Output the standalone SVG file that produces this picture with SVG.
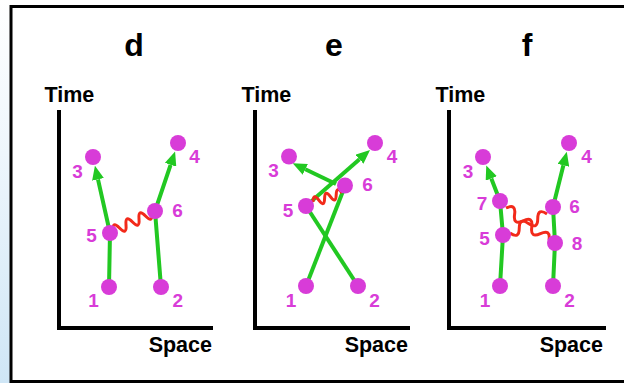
<svg xmlns="http://www.w3.org/2000/svg" width="624" height="383" viewBox="0 0 624 383">
<defs>
<linearGradient id="edge" x1="0" y1="0" x2="0" y2="1">
<stop offset="0" stop-color="#ffffff"/>
<stop offset="0.4" stop-color="#eef6fc"/>
<stop offset="1" stop-color="#cfe6f6"/>
</linearGradient>
<marker id="ah" markerUnits="userSpaceOnUse" markerWidth="14" markerHeight="12" refX="0" refY="6" orient="auto">
<path d="M0,0 L14,6 L0,12 Z" fill="#22c822"/>
</marker>
<style>
.title{font-family:"Liberation Sans",Arial,sans-serif;font-weight:bold;font-size:32px;fill:#000;text-anchor:middle}
.ax{font-family:"Liberation Sans",Arial,sans-serif;font-weight:bold;font-size:21.5px;fill:#000}
.axis{fill:none;stroke:#000;stroke-width:4}
.g{fill:none;stroke:#22c822;stroke-width:4}
.ga{fill:none;stroke:#22c822;stroke-width:4;marker-end:url(#ah)}
.w{fill:none;stroke:#f22a1a;stroke-width:3}
.n circle{fill:#d83cd8}
.n text{font-family:"Liberation Sans",Arial,sans-serif;font-weight:bold;font-size:19px;fill:#d83cd8;text-anchor:middle}
</style>
</defs>
<rect x="0" y="0" width="624" height="383" fill="#fff"/>
<rect x="0" y="0" width="10" height="383" fill="url(#edge)"/>
<rect x="11" y="6.5" width="630" height="375" fill="none" stroke="#000" stroke-width="3"/>

<g id="titles">
<text class="title" x="134" y="56">d</text>
<text class="title" x="334" y="56">e</text>
<text class="title" x="527" y="56">f</text>
</g>

<g id="axes">
<path class="axis" d="M59,110 V328 H213"/>
<path class="axis" d="M255,110 V328 H410"/>
<path class="axis" d="M449,110 V328 H606"/>
<text class="ax" x="44.5" y="102">Time</text>
<text class="ax" x="241.5" y="102">Time</text>
<text class="ax" x="435.5" y="102">Time</text>
<text class="ax" x="212" y="352" text-anchor="end">Space</text>
<text class="ax" x="408" y="352" text-anchor="end">Space</text>
<text class="ax" x="603" y="352" text-anchor="end">Space</text>
</g>

<g id="connectors">
<path class="ga" d="M109,287 L110,233 L98,179.4"/>
<path class="ga" d="M161,287 L155,211 L170.6,164.8"/>
<path class="w" d="M113,231 Q112.06,220.42 119.5,228 T126,225 T132.5,222 T139,219 T145.5,216 T152,213"/>

<path class="g" d="M306,286 L345,186"/>
<path class="g" d="M358,286 L306,206"/>
<path class="ga" d="M306,206 L359.5,159.2"/>
<path class="ga" d="M336,184 L305.3,169.3"/>
<path class="w" d="M313,202 Q313.24,192.51 318.8,200.2 T324.6,198.4 T330.4,196.6 T336.2,194.8 T342,193"/>

<path class="ga" d="M500,286 L503,235 L500,201 L491.3,178.5"/>
<path class="ga" d="M553,286 L555,243 L553,207 L563.4,165.3"/>
<path class="w" d="M506,208 Q516.27,203.18 514.6,214.4 T523.2,220.8 T531.8,227.2 T540.4,233.6 T549,240"/>
<path class="w" d="M510,233 Q519.17,239.49 519.25,228.25 T528.5,223.5 T537.75,218.75 T547,214"/>
</g>

<g id="d-1" class="n"><circle cx="109" cy="287" r="8"/><text x="93.5" y="307">1</text></g>
<g id="d-2" class="n"><circle cx="161" cy="287" r="8"/><text x="177.8" y="307">2</text></g>
<g id="d-3" class="n"><circle cx="93" cy="157" r="8"/><text x="77.5" y="178">3</text></g>
<g id="d-4" class="n"><circle cx="178" cy="143" r="8"/><text x="194.5" y="163">4</text></g>
<g id="d-5" class="n"><circle cx="110" cy="233" r="8"/><text x="91.5" y="242">5</text></g>
<g id="d-6" class="n"><circle cx="155" cy="211" r="8"/><text x="177.5" y="217">6</text></g>

<g id="e-1" class="n"><circle cx="306" cy="286" r="8"/><text x="291" y="307">1</text></g>
<g id="e-2" class="n"><circle cx="358" cy="286" r="8"/><text x="374.5" y="307">2</text></g>
<g id="e-3" class="n"><circle cx="289" cy="156.5" r="8"/><text x="273.5" y="177">3</text></g>
<g id="e-4" class="n"><circle cx="375" cy="143" r="8"/><text x="392" y="163">4</text></g>
<g id="e-5" class="n"><circle cx="306" cy="206" r="8"/><text x="288" y="217">5</text></g>
<g id="e-6" class="n"><circle cx="345" cy="185.5" r="8"/><text x="367.5" y="191">6</text></g>

<g id="f-1" class="n"><circle cx="500" cy="286" r="8"/><text x="485" y="307">1</text></g>
<g id="f-2" class="n"><circle cx="553" cy="286" r="8"/><text x="569.5" y="307">2</text></g>
<g id="f-3" class="n"><circle cx="483" cy="157" r="8"/><text x="468" y="178">3</text></g>
<g id="f-4" class="n"><circle cx="569" cy="143" r="8"/><text x="586.5" y="163">4</text></g>
<g id="f-7" class="n"><circle cx="500" cy="201" r="8"/><text x="482" y="210">7</text></g>
<g id="f-5" class="n"><circle cx="503" cy="235" r="8"/><text x="484.5" y="245">5</text></g>
<g id="f-6" class="n"><circle cx="553" cy="207" r="8"/><text x="574.5" y="213">6</text></g>
<g id="f-8" class="n"><circle cx="555" cy="243" r="8"/><text x="577" y="250">8</text></g>
</svg>
